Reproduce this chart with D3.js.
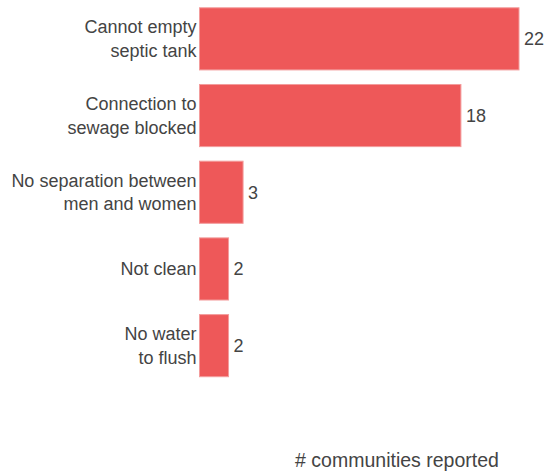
<!DOCTYPE html>
<html><head><meta charset="utf-8">
<script src="https://cdn.jsdelivr.net/npm/d3@7"></script>
<style>body{margin:0;background:#fff;} text{font-family:"Liberation Sans",Arial,sans-serif;}</style>
</head><body>
<svg id="c" width="544" height="471"></svg>
<script>
const categories = [["Cannot empty","septic tank"],["Connection to","sewage blocked"],["No separation between","men and women"],["Not clean"],["No water","to flush"]];
const values = [22, 18, 3, 2, 2];
const axisTitle = "# communities reported";

const svg = d3.select("#c");
const x = d3.scaleLinear().domain([0, 22]).range([199.5, 519]);
const y = d3.scaleBand().domain(d3.range(values.length)).range([0.5, 384]).paddingInner(0.19).paddingOuter(0.095);
const fs = 18;
const g = svg.append("g");
g.selectAll("rect").data(values).join("rect")
  .attr("x", x(0)).attr("y", (d,i)=>y(i))
  .attr("width", d=>x(d)-x(0)).attr("height", y.bandwidth())
  .attr("fill", "#ee5859").attr("stroke", "#f39c9c").attr("stroke-width", 1);
g.selectAll("text.v").data(values).join("text").attr("class","v")
  .attr("x", d=>Math.min(x(d)+5, 544 - 0)).attr("y", (d,i)=>y(i)+y.bandwidth()/2)
  .attr("dy","0.35em").attr("font-size", fs).attr("fill","#444").text(d=>d);
categories.forEach((lines,i)=>{
  const cy = y(i)+y.bandwidth()/2;
  const lh = 23.5;
  const t = g.append("text").attr("text-anchor","end").attr("font-size",fs).attr("fill","#444");
  lines.forEach((l,j)=>{
    t.append("tspan").attr("x",196.5).attr("y", cy + (j-(lines.length-1)/2)*lh).attr("dy","0.35em").text(l);
  });
});
svg.append("text").attr("x", 397).attr("y", 467).attr("text-anchor","middle")
  .attr("font-size", 19.5).attr("fill","#444").text(axisTitle);
</script>
</body></html>
